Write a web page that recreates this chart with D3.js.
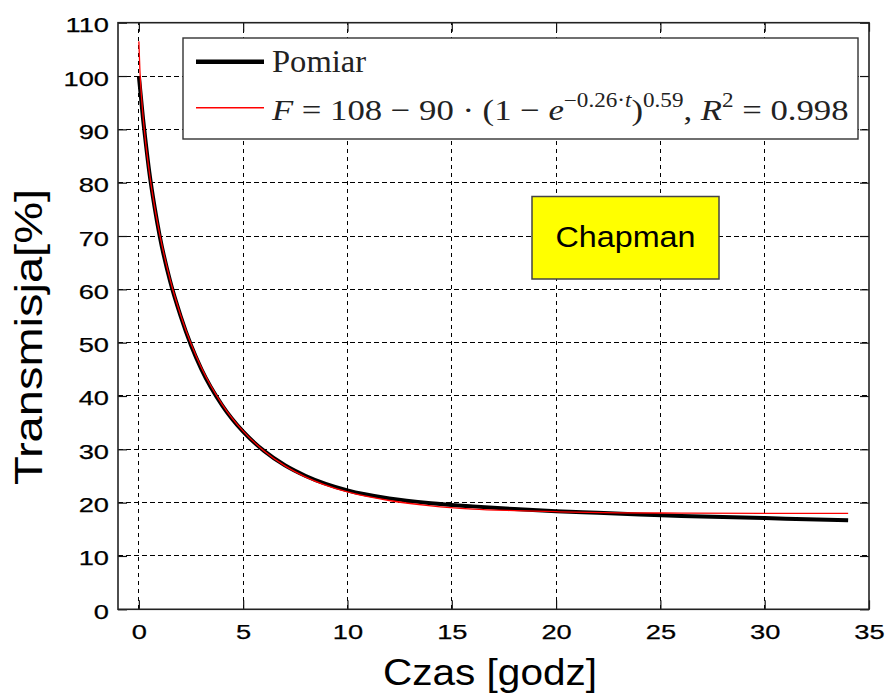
<!DOCTYPE html>
<html>
<head>
<meta charset="utf-8">
<script src="https://cdn.jsdelivr.net/npm/d3@7"></script>
<style>
  body { margin: 0; background: #fff; }
  svg { display: block; }
</style>
</head>
<body>
<svg id="chart" width="886" height="693"></svg>
<script>
// Measured transmission over time
const timeMeasured  = [0, 0.1, 0.2, 0.3, 0.5, 0.75, 1, 1.5, 2, 2.5, 3, 4, 5, 6, 7, 8, 10, 12, 14, 16, 18, 20, 22, 24, 26, 28, 30, 32, 34];
const transMeasured = [100, 96, 92, 88.5, 82, 75.5, 70, 61.5, 55, 49.5, 45, 38.2, 33.3, 29.7, 27, 25, 22.3, 20.8, 19.9, 19.3, 18.8, 18.4, 18.1, 17.8, 17.5, 17.3, 17.1, 16.9, 16.7];

// Chapman fit curve
const timeFit  = [0, 0.05, 0.1, 0.2, 0.3, 0.5, 0.75, 1, 1.5, 2, 2.5, 3, 4, 5, 6, 7, 8, 10, 12, 14, 16, 18, 20, 23, 26, 30, 34];
const transFit = [106.5, 101.1, 97.6, 92.5, 88.5, 82.0, 75.6, 70.3, 61.8, 55.2, 49.8, 45.3, 38.4, 33.4, 29.7, 26.9, 24.8, 22.0, 20.4, 19.4, 18.8, 18.5, 18.3, 18.1, 18.05, 18.0, 18.0];

const xTicks = [0, 5, 10, 15, 20, 25, 30, 35];
const yTicks = [0, 10, 20, 30, 40, 50, 60, 70, 80, 90, 100, 110];

const seriesNames = ["Pomiar", "fit"];
const xTitle = "Czas [godz]";
const yTitle = "Transmisja[%]";
const boxLabel = "Chapman";

const SANS = "'Liberation Sans', Arial, Helvetica, sans-serif";
const SERIF = "'Liberation Serif', 'Times New Roman', serif";

const svg = d3.select("#chart");

const plot = { left: 118, right: 869, top: 22.7, bottom: 609.3 };
const x = d3.scaleLinear().domain([-1, 35]).range([plot.left, plot.right]);
const y = d3.scaleLinear().domain([0, 110]).range([plot.bottom, plot.top]);

// widen glyphs horizontally by a factor of their natural length
function widen(sel, k) {
  sel.each(function () {
    const L = this.getComputedTextLength();
    this.setAttribute("textLength", L * k);
    this.setAttribute("lengthAdjust", "spacingAndGlyphs");
  });
}

// dashed grid
const grid = svg.append("g")
  .attr("stroke", "#000")
  .attr("stroke-width", 1)
  .attr("shape-rendering", "crispEdges")
  .attr("stroke-dasharray", "4.5,3.5");
grid.selectAll("line.v").data(xTicks.filter(t => t > x.domain()[0] && t < x.domain()[1]))
  .join("line").attr("class", "v")
  .attr("x1", d => x(d)).attr("x2", d => x(d))
  .attr("y1", y(0)).attr("y2", y(110));
grid.selectAll("line.h").data(yTicks.filter(t => t > 0 && t < 110))
  .join("line").attr("class", "h")
  .attr("x1", x(-1)).attr("x2", x(35))
  .attr("y1", d => y(d)).attr("y2", d => y(d));

// axes with inward ticks on all four sides
function styleAxis(g) {
  g.select(".domain").remove();
  g.selectAll(".tick line").attr("stroke", "#111").attr("stroke-width", 1.2);
  g.attr("font-family", SANS).attr("font-size", 20.5);
  g.selectAll("text").attr("fill", "#000").attr("stroke", "#000").attr("stroke-width", 0.25);
}

const xAxis = svg.append("g")
  .attr("transform", `translate(0,${y(0)})`)
  .call(d3.axisBottom(x).tickValues(xTicks).tickSize(-9).tickFormat(d3.format("d")))
  .call(styleAxis);
xAxis.selectAll("text").attr("y", 30).attr("dy", null);

const yAxis = svg.append("g")
  .attr("transform", `translate(${x(-1)},0)`)
  .call(d3.axisLeft(y).tickValues(yTicks).tickSize(-9).tickFormat(d3.format("d")))
  .call(styleAxis);
yAxis.selectAll("text").attr("x", -9).attr("y", 9).attr("dy", null);

svg.append("g")
  .attr("transform", `translate(0,${y(110)})`)
  .call(d3.axisTop(x).tickValues(xTicks).tickSize(-9).tickFormat(""))
  .call(styleAxis);
svg.append("g")
  .attr("transform", `translate(${x(35)},0)`)
  .call(d3.axisRight(y).tickValues(yTicks).tickSize(-9).tickFormat(""))
  .call(styleAxis);

widen(xAxis.selectAll("text"), 1.33);
widen(yAxis.selectAll("text"), 1.33);

// frame
svg.append("rect")
  .attr("x", x(-1)).attr("y", y(110))
  .attr("width", x(35) - x(-1)).attr("height", y(0) - y(110))
  .attr("fill", "none").attr("stroke", "#222").attr("stroke-width", 1.6);

// curves
const measured = timeMeasured.map((t, i) => [t, transMeasured[i]]);
const fitted = timeFit.map((t, i) => [t, transFit[i]]);
const line = d3.line().x(d => x(d[0])).y(d => y(d[1])).curve(d3.curveMonotoneX);

svg.append("path").datum(measured)
  .attr("d", line).attr("fill", "none")
  .attr("stroke", "#000").attr("stroke-width", 4).attr("stroke-linejoin", "round");
svg.append("path").datum(fitted)
  .attr("d", line).attr("fill", "none")
  .attr("stroke", "#ff0000").attr("stroke-width", 1.3);

// legend
const legend = svg.append("g");
legend.append("rect")
  .attr("x", 183).attr("y", 38).attr("width", 675).attr("height", 101)
  .attr("fill", "#fff").attr("stroke", "#333").attr("stroke-width", 1.4);
legend.append("line")
  .attr("x1", 196).attr("x2", 264).attr("y1", 61.7).attr("y2", 61.7)
  .attr("stroke", "#000").attr("stroke-width", 4.5);
legend.append("line")
  .attr("x1", 196).attr("x2", 264).attr("y1", 107.7).attr("y2", 107.7)
  .attr("stroke", "#ff0000").attr("stroke-width", 1.5);

const name1 = legend.append("text")
  .attr("x", 272).attr("y", 71.7)
  .attr("font-family", SERIF).attr("font-size", 31)
  .attr("fill", "#222")
  .text(seriesNames[0]);
widen(name1, 1.05);

const eqGroup = legend.append("g");
const eq = eqGroup.append("text")
  .attr("x", 0).attr("y", 0)
  .attr("font-family", SERIF).attr("font-size", 30)
  .attr("fill", "#222");
eq.append("tspan").attr("font-style", "italic").text("F");
eq.append("tspan").text(" = 108 − 90 · (1 − ");
eq.append("tspan").attr("font-style", "italic").text("e");
eq.append("tspan").attr("dy", -13).attr("font-size", 20).text("−0.26·");
eq.append("tspan").attr("font-size", 20).attr("font-style", "italic").text("t");
eq.append("tspan").attr("dy", 13).text(")");
eq.append("tspan").attr("dy", -13).attr("font-size", 20).text("0.59");
eq.append("tspan").attr("dy", 13).text(", ");
eq.append("tspan").attr("font-style", "italic").text("R");
eq.append("tspan").attr("dy", -13).attr("font-size", 20).text("2");
eq.append("tspan").attr("dy", 13).text(" = 0.998");
const eqW = eq.node().getBBox().width;
eqGroup.attr("transform", `translate(272,120) scale(${578 / eqW},1)`);

// annotation box
svg.append("rect")
  .attr("x", 532).attr("y", 196.5).attr("width", 187).attr("height", 82.5)
  .attr("fill", "#ffff00").attr("stroke", "#444").attr("stroke-width", 1.5);
svg.append("text")
  .attr("x", 625.5).attr("y", 246.7)
  .attr("text-anchor", "middle")
  .attr("font-family", SANS).attr("font-size", 30)
  .attr("textLength", 140).attr("lengthAdjust", "spacingAndGlyphs")
  .text(boxLabel);

// axis titles
svg.append("text")
  .attr("x", 490).attr("y", 685)
  .attr("text-anchor", "middle")
  .attr("font-family", SANS).attr("font-size", 37)
  .attr("textLength", 214).attr("lengthAdjust", "spacingAndGlyphs")
  .text(xTitle);
svg.append("text")
  .attr("transform", "translate(42,337) rotate(-90)")
  .attr("text-anchor", "middle")
  .attr("font-family", SANS).attr("font-size", 38)
  .attr("textLength", 296).attr("lengthAdjust", "spacingAndGlyphs")
  .text(yTitle);
</script>
</body>
</html>
